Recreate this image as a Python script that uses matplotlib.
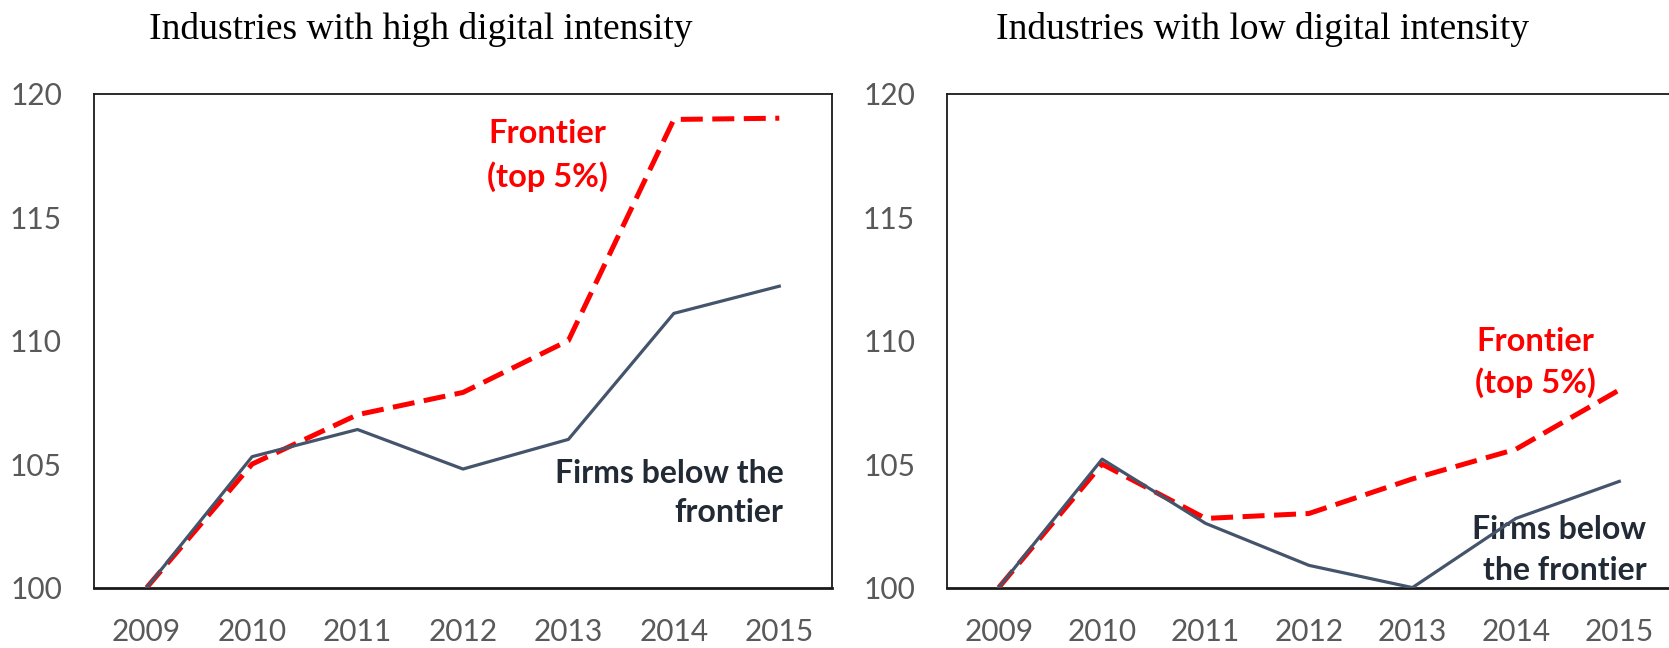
import matplotlib
matplotlib.use("Agg")
import matplotlib.pyplot as plt

years = ["2009", "2010", "2011", "2012", "2013", "2014", "2015"]
high_frontier = [100.0, 105.0, 107.0, 107.9, 110.0, 118.95, 119.0]
high_below = [100.0, 105.3, 106.4, 104.8, 106.0, 111.1, 112.2]
low_frontier = [100.0, 105.0, 102.8, 103.0, 104.4, 105.6, 108.0]
low_below = [100.0, 105.2, 102.6, 100.9, 100.0, 102.8, 104.3]
yticks = [100, 105, 110, 115, 120]
titles = ["Industries with high digital intensity", "Industries with low digital intensity"]

RED = "#FF0000"
GREY = "#44546A"
DARK = "#222A35"
TICK = "#595959"

fig = plt.figure(figsize=(16.69, 6.48), dpi=100)
axL = fig.add_axes([0.0563, 0.0932, 0.4422, 0.7625])
axR = fig.add_axes([0.5674, 0.0932, 0.4338, 0.7625])

x = list(range(len(years)))
for ax, fr, bl in [(axL, high_frontier, high_below), (axR, low_frontier, low_below)]:
    ax.plot(x, fr, color=RED, lw=3.6, dashes=(4.4, 1.9), zorder=3, solid_capstyle="butt")
    ax.plot(x, bl, color=GREY, lw=2.3, zorder=4)
    ax.set_xlim(-0.5, 6.5)
    ax.set_ylim(100, 120)
    ax.set_xticks(x)
    ax.set_xticklabels(years)
    ax.set_yticks(yticks)
    ax.tick_params(length=0, labelsize=21.5, colors=TICK)
    ax.tick_params(axis="x", pad=22)
    ax.tick_params(axis="y", pad=23)
    for lab in ax.get_xticklabels() + ax.get_yticklabels():
        lab.set_fontfamily("Lato")
    for s in ["top", "right", "left"]:
        ax.spines[s].set_color("#1a1a1a")
        ax.spines[s].set_linewidth(1.3)
    ax.spines["bottom"].set_color("#1a1a1a")
    ax.spines["bottom"].set_linewidth(2.0)

# annotations (in data coordinates)
axL.text(3.80, 117.5, "Frontier\n(top 5%)", color=RED, fontsize=23.5, fontweight="bold",
         family="Lato", ha="center", va="center", linespacing=1.5)
axL.text(6.04, 103.83, "Firms below the\nfrontier", color=DARK, fontsize=23, fontweight="bold",
         family="Lato", ha="right", va="center", linespacing=1.45)
axR.text(5.19, 109.1, "Frontier\n(top 5%)", color=RED, fontsize=23.5, fontweight="bold",
         family="Lato", ha="center", va="center", linespacing=1.45)
axR.text(6.26, 101.52, "Firms below\nthe frontier", color=DARK, fontsize=23, fontweight="bold",
         family="Lato", ha="right", va="center", linespacing=1.5)

fig.text(0.2523, 0.955, titles[0], family="Liberation Serif", fontsize=27, ha="center", va="center")
fig.text(0.7567, 0.955, titles[1], family="Liberation Serif", fontsize=27, ha="center", va="center")

fig.savefig("out.png", dpi=100)
